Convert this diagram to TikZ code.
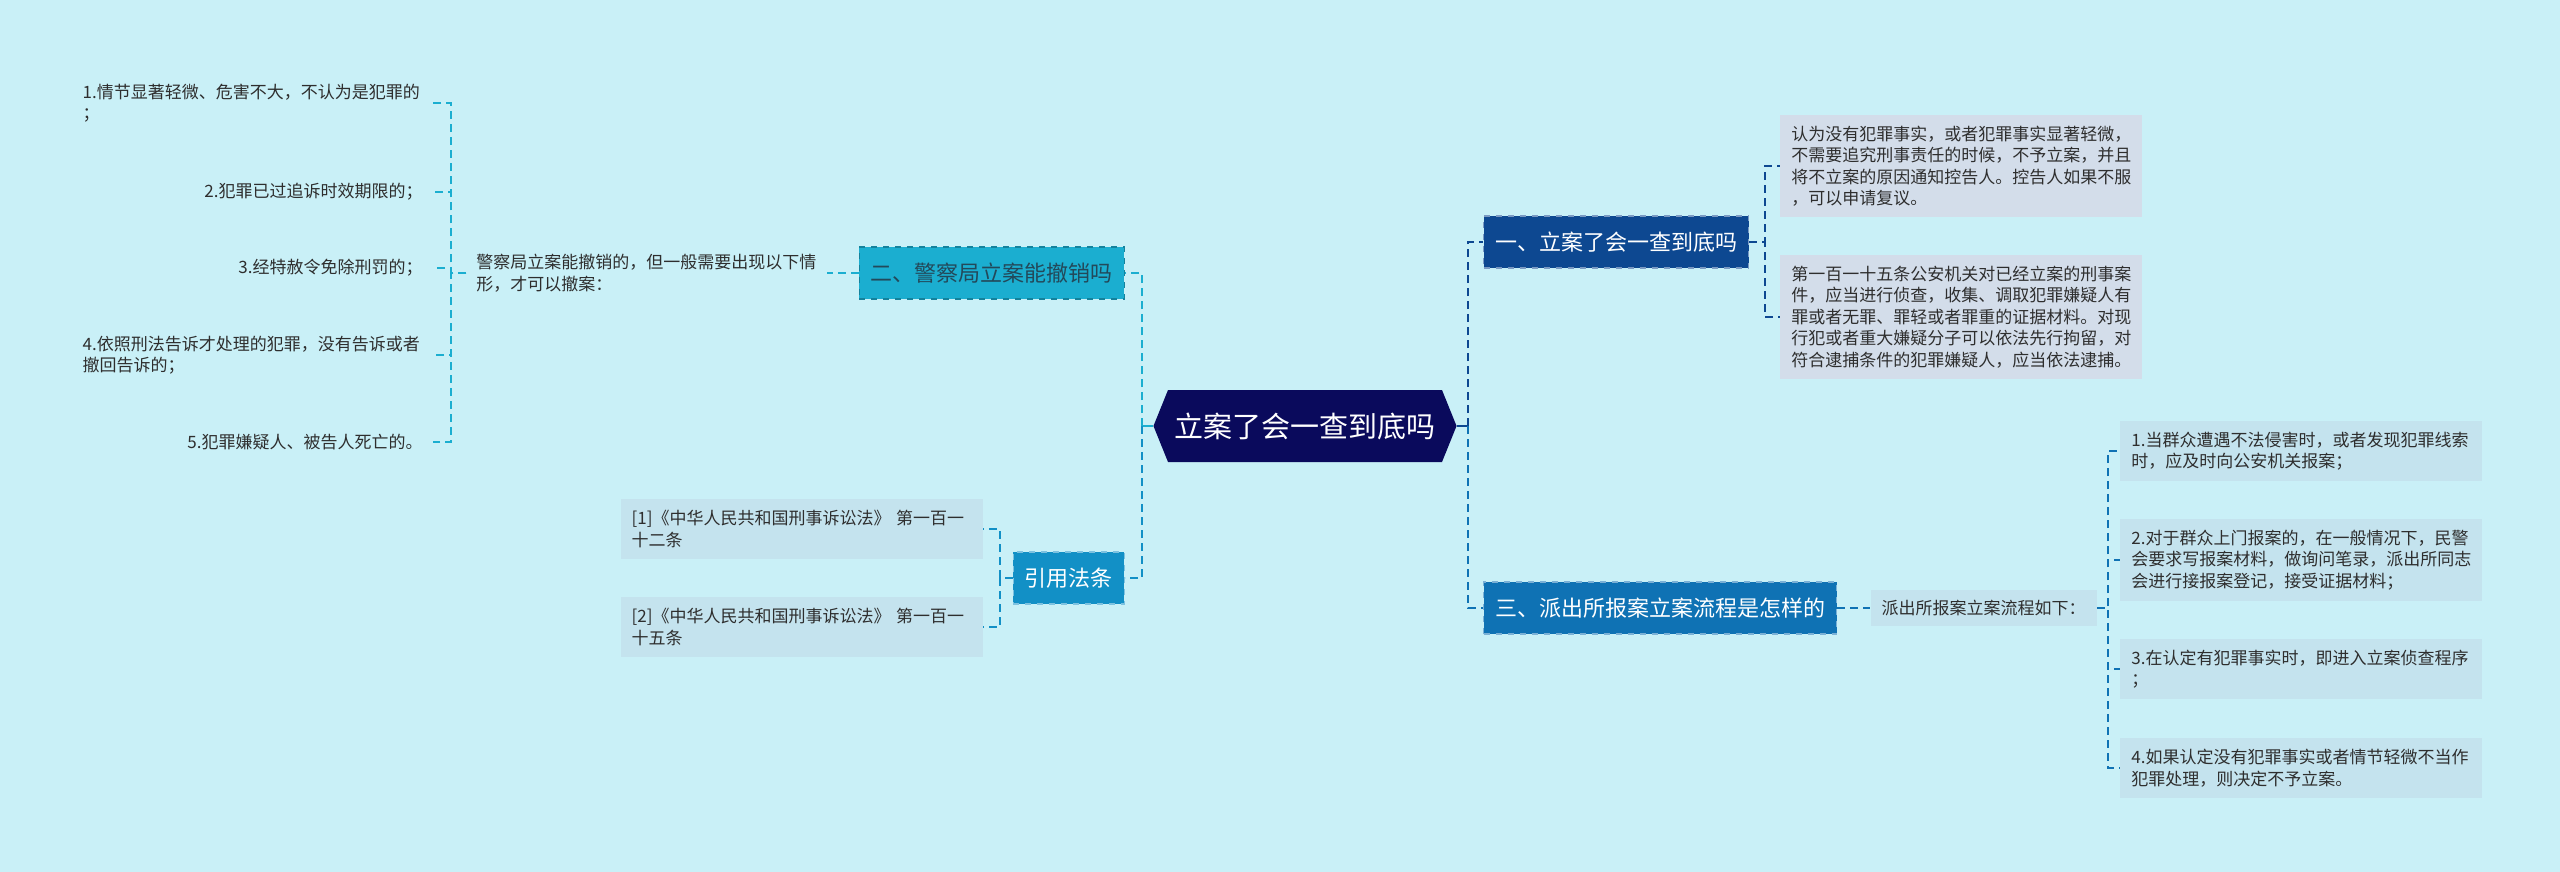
\documentclass[tikz,border=0pt]{standalone}
\usepackage{fontspec}
\setmainfont{Noto Sans CJK SC}
\usepackage{xcolor}
\usepackage{tikz}
\usetikzlibrary{positioning,shapes.symbols}
\definecolor{paper}{HTML}{C9F0F7}
\definecolor{rootink}{HTML}{0A0A5C}
\definecolor{navyhead}{HTML}{0D4891}
\definecolor{bluehead}{HTML}{0F72B4}
\definecolor{tealhead}{HTML}{1BAED0}
\definecolor{lawhead}{HTML}{1290C6}
\definecolor{tealtext}{HTML}{23495A}
\definecolor{graycard}{HTML}{D3DDEA}
\definecolor{bluecard}{HTML}{C4E3EE}
\definecolor{bodyink}{HTML}{2E2E2E}
\tikzset{
  rootnode/.style={signal,signal to=west and east,signal pointer angle=136,
                   fill=rootink,text=white,inner xsep=3.25pt,minimum height=36pt,
                   font=\fontsize{14.5}{18}\selectfont},
  headbox/.style ={draw,dashed,line width=0.6pt,inner xsep=5.75pt,minimum height=26pt,
                   font=\fontsize{11}{13}\selectfont},
  card/.style    ={fill=graycard,text=bodyink,text width=170pt,align=left,
                   inner xsep=5.5pt,inner ysep=5.5pt,font=\fontsize{8.5}{10.75}\selectfont},
  tag/.style     ={fill=bluecard,text=bodyink,inner xsep=5.5pt,minimum height=18pt,
                   font=\fontsize{8.5}{10.75}\selectfont},
  note/.style    ={text=bodyink,align=left,inner xsep=5pt,inner ysep=4pt,
                   font=\fontsize{8.5}{10.75}\selectfont},
  stub/.style    ={draw=#1,line width=1pt},
  trunk/.style   ={draw=#1,line width=1pt,dash pattern=on 4pt off 2.5pt},
  twig/.style    ={draw=#1,line width=0.7pt,dash pattern=on 4pt off 2.5pt}
}
\begin{document}
\begin{tikzpicture}[x=0.5pt,y=-0.5pt]
  \fill[paper] (0,0) rectangle (2560,872);
  \useasboundingbox (0,0) rectangle (2560,872);

  \node[rootnode] (root) at (1305,426) {立案了会一查到底吗};

  % main topics
  \node[headbox,anchor=west,fill=navyhead,draw=navyhead!55!white,text=white] (h1) at (1483,242) {一、立案了会一查到底吗};
  \node[headbox,anchor=east,fill=tealhead,draw=tealhead!75!black,text=tealtext] (h2) at (1125,273) {二、警察局立案能撤销吗};
  \node[headbox,anchor=west,fill=bluehead,draw=bluehead!55!white,text=white] (h3) at (1483,608) {三、派出所报案立案流程是怎样的};
  \node[headbox,anchor=east,fill=lawhead,draw=lawhead!55!white,text=white] (h4) at (1125,578) {引用法条};

  \coordinate (jr) at (1468,426);
  \coordinate (jl) at (1142,426);
  \draw[stub=navyhead] (root.east) -- (jr);
  \draw[stub=tealhead] (root.west) -- (jl);
  \draw[trunk=navyhead] (jr) |- (h1.west);
  \draw[trunk=bluehead] (jr) |- (h3.west);
  \draw[trunk=tealhead] (jl) |- (h2.east);
  \draw[trunk=lawhead] (jl) |- (h4.east);

  % topic one
  \node[card,anchor=west] (c1) at (1780,166) {认为没有犯罪事实，或者犯罪事实显著轻微，\\不需要追究刑事责任的时候，不予立案，并且\\将不立案的原因通知控告人。控告人如果不服\\，可以申请复议。};
  \node[card,anchor=west] (c2) at (1780,317) {第一百一十五条公安机关对已经立案的刑事案\\件，应当进行侦查，收集、调取犯罪嫌疑人有\\罪或者无罪、罪轻或者罪重的证据材料。对现\\行犯或者重大嫌疑分子可以依法先行拘留，对\\符合逮捕条件的犯罪嫌疑人，应当依法逮捕。};
  \coordinate (j1) at (1765,242);
  \draw[twig=navyhead] (h1.east) -- (j1) |- (c1.west);
  \draw[twig=navyhead] (h1.east) -- (j1) |- (c2.west);

  % topic three
  \node[tag,right=16.5pt of h3] (p0) {派出所报案立案流程如下：};
  \node[card,fill=bluecard,anchor=west] (s1) at (2120,451) {1.当群众遭遇不法侵害时，或者发现犯罪线索\\时，应及时向公安机关报案；};
  \node[card,fill=bluecard,anchor=west] (s2) at (2120,560) {2.对于群众上门报案的，在一般情况下，民警\\会要求写报案材料，做询问笔录，派出所同志\\会进行接报案登记，接受证据材料；};
  \node[card,fill=bluecard,anchor=west] (s3) at (2120,669) {3.在认定有犯罪事实时，即进入立案侦查程序\\；};
  \node[card,fill=bluecard,anchor=west] (s4) at (2120,768) {4.如果认定没有犯罪事实或者情节轻微不当作\\犯罪处理，则决定不予立案。};
  \coordinate (j3) at (2108,608);
  \draw[twig=bluehead] (h3.east) -- (p0.west);
  \draw[twig=bluehead] (p0.east) -- (j3) |- (s1.west);
  \draw[twig=bluehead] (p0.east) -- (j3) |- (s2.west);
  \draw[twig=bluehead] (p0.east) -- (j3) |- (s3.west);
  \draw[twig=bluehead] (p0.east) -- (j3) |- (s4.west);

  % topic two
  \node[note,text width=170pt,left=16pt of h2] (w0) {警察局立案能撤销的，但一般需要出现以下情\\形，才可以撤案：};
  \node[note,text width=170pt,anchor=east] (w1) at (433,103) {1.情节显著轻微、危害不大，不认为是犯罪的\\；};
  \node[note,anchor=east] (w2) at (433,192) {2.犯罪已过追诉时效期限的；};
  \node[note,anchor=east] (w3) at (433,268) {3.经特赦令免除刑罚的；};
  \node[note,text width=170pt,anchor=east] (w4) at (433,355) {4.依照刑法告诉才处理的犯罪，没有告诉或者\\撤回告诉的；};
  \node[note,anchor=east] (w5) at (433,442) {5.犯罪嫌疑人、被告人死亡的。};
  \coordinate (j2) at (451,273);
  \draw[twig=tealhead] (h2.west) -- (w0.east);
  \draw[twig=tealhead] (w0.west) -- (j2) |- (w1.east);
  \draw[twig=tealhead] (w0.west) -- (j2) |- (w2.east);
  \draw[twig=tealhead] (w0.west) -- (j2) |- (w3.east);
  \draw[twig=tealhead] (w0.west) -- (j2) |- (w4.east);
  \draw[twig=tealhead] (w0.west) -- (j2) |- (w5.east);

  % cited articles
  \node[card,fill=bluecard,anchor=east] (r1) at (983,529) {[1]《中华人民共和国刑事诉讼法》 第一百一\\十二条};
  \node[card,fill=bluecard,anchor=east] (r2) at (983,627) {[2]《中华人民共和国刑事诉讼法》 第一百一\\十五条};
  \coordinate (j4) at (1000,578);
  \draw[twig=lawhead] (h4.west) -- (j4) |- (r1.east);
  \draw[twig=lawhead] (h4.west) -- (j4) |- (r2.east);
\end{tikzpicture}
\end{document}
